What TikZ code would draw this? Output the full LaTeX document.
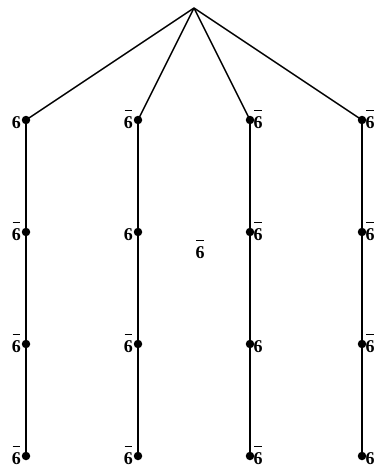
\documentclass[tikz,border=0pt]{standalone}
\usepackage{fontspec}
\setmainfont{Liberation Serif}
\newcommand\plainsix{6}
\newcommand\barsix{\makebox[0pt][l]{\hspace{0.04em}\raisebox{0.96em}{\rule{0.44em}{0.065em}}}6}
\begin{document}
\begin{tikzpicture}[x=1pt,y=-1pt,
  dot/.style={circle,fill=black,inner sep=0pt,minimum size=8.5pt},
  edge/.style={line width=1.5pt},
  lab/.style={font=\fontsize{18}{20}\selectfont\bfseries,inner sep=0pt}]
\useasboundingbox (0,0) rectangle (375,469);
\coordinate (r) at (194,8);
\foreach \i/\x in {1/26,2/138,3/250,4/362}{
  \foreach \j/\y in {1/120,2/232,3/344,4/456}{
    \node[dot] (c\i r\j) at (\x,\y) {};
  }
}
\foreach \i in {1,2,3,4}{
  \draw[edge] (r) -- (c\i r1.center);
  \draw[edge] (c\i r1.center) -- (c\i r2.center) -- (c\i r3.center) -- (c\i r4.center);
}
% labels left of columns 1 and 2
\foreach \i/\x in {1/26,2/138}{
  \foreach \j/\y in {1/120,2/232,3/344,4/456}{
    \ifnum\i=\j
      \node[lab,anchor=base east] (l\i\j) at (\x-5,\y+8.5) {\plainsix};
    \else
      \node[lab,anchor=base east] (l\i\j) at (\x-5,\y+8.5) {\barsix};
    \fi
  }
}
% labels right of columns 3 and 4
\foreach \i/\x in {3/250,4/362}{
  \foreach \j/\y in {1/120,2/232,3/344,4/456}{
    \ifnum\i=\j
      \node[lab,anchor=base west] (l\i\j) at (\x+3.5,\y+8.5) {\plainsix};
    \else
      \node[lab,anchor=base west] (l\i\j) at (\x+3.5,\y+8.5) {\barsix};
    \fi
  }
}
\node[lab,anchor=base west] (mid) at (195.5,258) {\barsix};
\end{tikzpicture}
\end{document}
